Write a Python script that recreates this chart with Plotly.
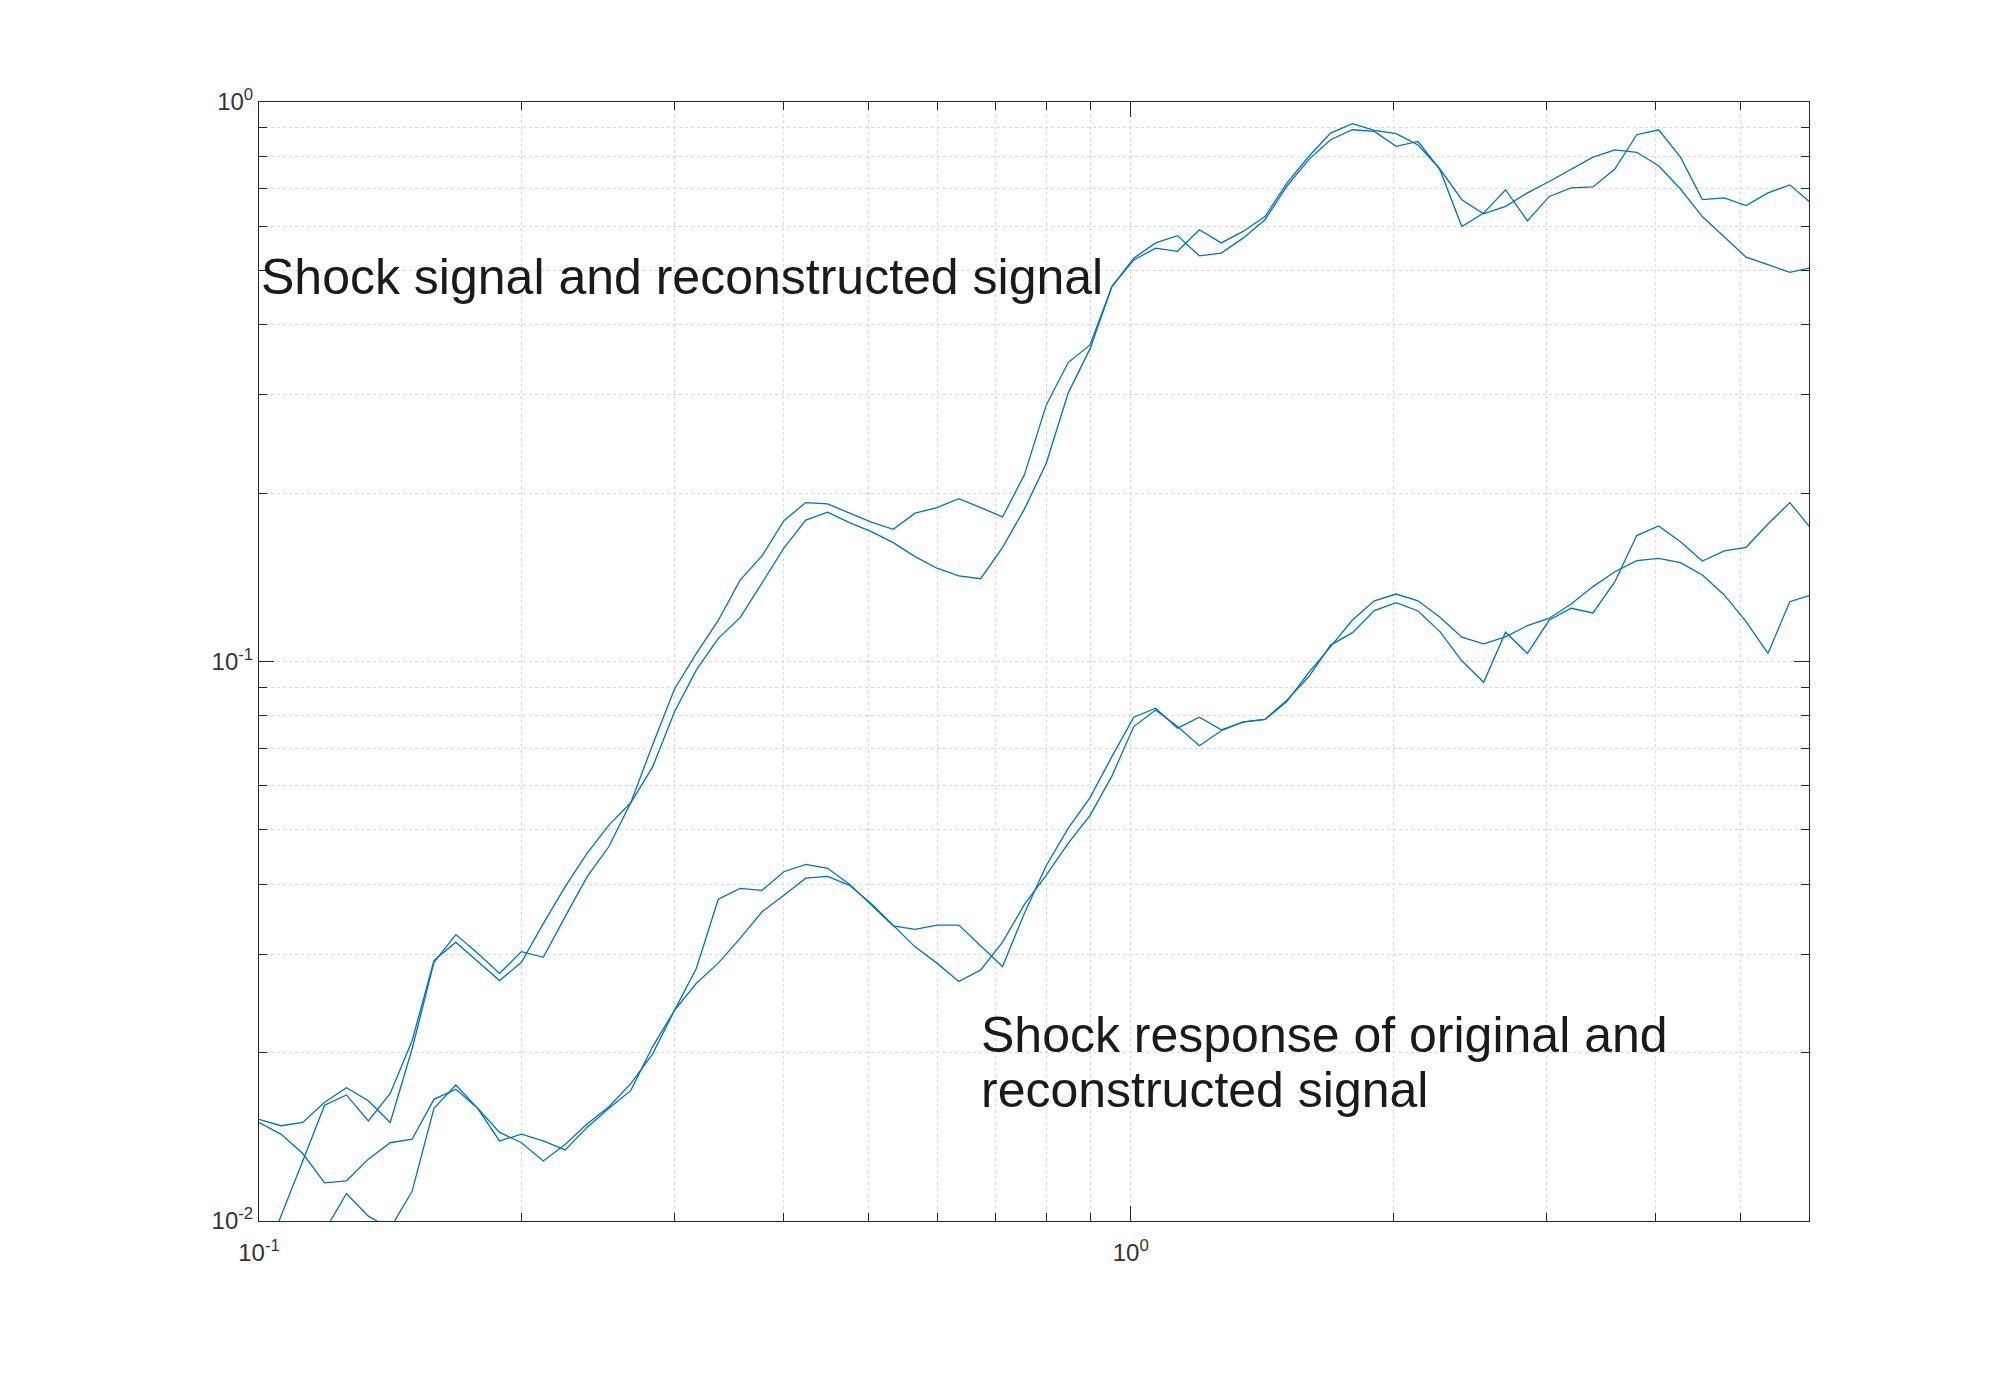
import plotly.graph_objects as go

# 1/12-octave frequency grid (x values)
freq = [0.1, 0.10595, 0.11225, 0.11892, 0.12599, 0.13348, 0.14142, 0.14983,
        0.15874, 0.16818, 0.17818, 0.18877, 0.2, 0.21189, 0.22449, 0.23784,
        0.25198, 0.26697, 0.28284, 0.29966, 0.31748, 0.33636, 0.35636, 0.37755,
        0.4, 0.42379, 0.44898, 0.47568, 0.50397, 0.53394, 0.56569, 0.59932,
        0.63496, 0.67272, 0.71272, 0.75510, 0.8, 0.84757, 0.89797, 0.95137,
        1.00794, 1.06787, 1.13137, 1.19865, 1.26992, 1.34543, 1.42544, 1.51019,
        1.6, 1.69514, 1.79594, 1.90273, 2.01587, 2.13574, 2.26274, 2.39730,
        2.53984, 2.69087, 2.85088, 3.02039, 3.2, 3.39028, 3.59188, 3.80546,
        4.03175, 4.27149, 4.52548, 4.79460, 5.07968, 5.38174, 5.70175, 6.04077]

# Shock signal (original) and reconstructed signal
signal_a = [0.0152, 0.0148, 0.0150, 0.0163, 0.0173, 0.0164, 0.0150, 0.0203,
            0.0290, 0.0325, 0.0301, 0.0277, 0.0303, 0.0296, 0.0350, 0.0412,
            0.0467, 0.0559, 0.0710, 0.0893, 0.1034, 0.1184, 0.1398, 0.1544,
            0.1785, 0.1923, 0.1913, 0.1841, 0.1774, 0.1723, 0.1841, 0.1884,
            0.1955, 0.1884, 0.1813, 0.2156, 0.2875, 0.3422, 0.368, 0.468,
            0.526, 0.560, 0.577, 0.531, 0.537, 0.571, 0.616, 0.707,
            0.789, 0.856, 0.892, 0.886, 0.833, 0.850, 0.757, 0.599,
            0.633, 0.697, 0.613, 0.678, 0.702, 0.705, 0.759, 0.874,
            0.892, 0.797, 0.669, 0.674, 0.653, 0.688, 0.711, 0.658]
signal_b = [0.0080, 0.0102, 0.0128, 0.0161, 0.0168, 0.0151, 0.0169, 0.0210,
            0.0292, 0.0315, 0.0291, 0.0269, 0.0290, 0.0340, 0.0396, 0.0454,
            0.0510, 0.0559, 0.0648, 0.0813, 0.0966, 0.1100, 0.1198, 0.1380,
            0.1594, 0.1790, 0.1849, 0.1771, 0.1706, 0.1631, 0.1540, 0.1468,
            0.1422, 0.1406, 0.1600, 0.1872, 0.2261, 0.3018, 0.362, 0.468,
            0.522, 0.548, 0.541, 0.591, 0.560, 0.587, 0.624, 0.716,
            0.799, 0.880, 0.915, 0.890, 0.878, 0.838, 0.759, 0.669,
            0.631, 0.651, 0.688, 0.721, 0.759, 0.797, 0.821, 0.813,
            0.769, 0.699, 0.624, 0.575, 0.528, 0.512, 0.496, 0.506]

# Shock response of original and reconstructed signal
response_a = [0.0075, 0.0080, 0.0085, 0.0096, 0.0112, 0.0102, 0.0097, 0.0113,
              0.0159, 0.0175, 0.0159, 0.0139, 0.0143, 0.0139, 0.0134, 0.0147,
              0.0159, 0.0171, 0.0205, 0.0238, 0.0283, 0.0376, 0.0393, 0.0390,
              0.0421, 0.0434, 0.0427, 0.0400, 0.0367, 0.0337, 0.0332, 0.0338,
              0.0338, 0.0311, 0.0285, 0.0355, 0.0432, 0.0503, 0.0571, 0.0676,
              0.0795, 0.0825, 0.0760, 0.0795, 0.0755, 0.0779, 0.0788, 0.0848,
              0.0955, 0.1063, 0.1186, 0.1284, 0.1320, 0.1284, 0.1200, 0.1105,
              0.1075, 0.1107, 0.1159, 0.1195, 0.1267, 0.1361, 0.1447, 0.1514,
              0.1529, 0.1502, 0.1428, 0.1315, 0.1178, 0.1034, 0.1279, 0.1316]
response_b = [0.0150, 0.0143, 0.0132, 0.0117, 0.0118, 0.0129, 0.0138, 0.0140,
              0.0165, 0.0172, 0.0159, 0.0144, 0.0138, 0.0128, 0.0137, 0.0149,
              0.0160, 0.0176, 0.0199, 0.0238, 0.0266, 0.0289, 0.0320, 0.0357,
              0.0382, 0.0410, 0.0413, 0.0398, 0.0369, 0.0338, 0.0309, 0.0289,
              0.0268, 0.0281, 0.0315, 0.0368, 0.0415, 0.0473, 0.0531, 0.0624,
              0.0765, 0.0819, 0.0765, 0.0707, 0.0752, 0.0780, 0.0788, 0.0853,
              0.0939, 0.1070, 0.1126, 0.1233, 0.1274, 0.1231, 0.1131, 0.1003,
              0.0918, 0.1128, 0.1034, 0.1186, 0.1245, 0.1221, 0.1389, 0.1679,
              0.1747, 0.1637, 0.1512, 0.1576, 0.1600, 0.1761, 0.1923, 0.1723]

x_major_ticks = [0.1, 1]
x_major_labels = ["10<sup>-1</sup>", "10<sup>0</sup>"]
x_minor_ticks = [0.2, 0.3, 0.4, 0.5, 0.6, 0.7, 0.8, 0.9, 2, 3, 4, 5]
y_major_ticks = [0.01, 0.1, 1]
y_major_labels = ["10<sup>-2</sup>", "10<sup>-1</sup>", "10<sup>0</sup>"]
y_minor_ticks = [0.02, 0.03, 0.04, 0.05, 0.06, 0.07, 0.08, 0.09,
                 0.2, 0.3, 0.4, 0.5, 0.6, 0.7, 0.8, 0.9]

LINE_COLOR = "#0072BD"
AX = "#262626"
GRID = "#d9d9d9"
FONT = "Liberation Sans, Arial, Helvetica, sans-serif"

fig = go.Figure()
for series in (signal_a, signal_b, response_a, response_b):
    fig.add_trace(go.Scatter(x=freq, y=series, mode="lines",
                             line=dict(color=LINE_COLOR, width=1.3),
                             showlegend=False, hoverinfo="skip"))

def axis_style(major_vals, major_text, minor_vals, rng, standoff):
    return dict(
        type="log", range=rng, autorange=False,
        tickmode="array", tickvals=major_vals, ticktext=major_text,
        ticks="inside", ticklen=15, tickwidth=1, tickcolor=AX,
        showline=True, linecolor=AX, linewidth=1, mirror="allticks",
        showgrid=True, gridcolor=GRID, griddash="dot", gridwidth=1,
        zeroline=False, ticklabelstandoff=standoff,
        tickfont=dict(family=FONT, size=24, color="#333333"),
        minor=dict(tickmode="array", tickvals=minor_vals, ticks="inside",
                   ticklen=8, tickwidth=1, tickcolor=AX,
                   showgrid=True, gridcolor=GRID, griddash="dot", gridwidth=1),
    )

fig.update_layout(
    width=2000, height=1373,
    margin=dict(l=259, r=191, t=102, b=152, pad=0),
    paper_bgcolor="white", plot_bgcolor="white",
    xaxis=axis_style(x_major_ticks, x_major_labels, x_minor_ticks, [-1, 0.778], 10),
    yaxis=axis_style(y_major_ticks, y_major_labels, y_minor_ticks, [-2, 0], 0),
    font=dict(family=FONT),
)

TEXT_FONT = dict(family=FONT, size=50, color="#1a1a1a")
fig.add_annotation(text="Shock signal and reconstructed signal",
                   xref="paper", yref="paper", x=0.0003, y=0.8434,
                   xanchor="left", yanchor="middle", showarrow=False,
                   font=TEXT_FONT)
fig.add_annotation(text="Shock response of original and",
                   xref="paper", yref="paper", x=0.4644, y=0.1662,
                   xanchor="left", yanchor="middle", showarrow=False,
                   font=TEXT_FONT)
fig.add_annotation(text="reconstructed signal",
                   xref="paper", yref="paper", x=0.4644, y=0.1170,
                   xanchor="left", yanchor="middle", showarrow=False,
                   font=TEXT_FONT)

fig.write_html("out.html")
